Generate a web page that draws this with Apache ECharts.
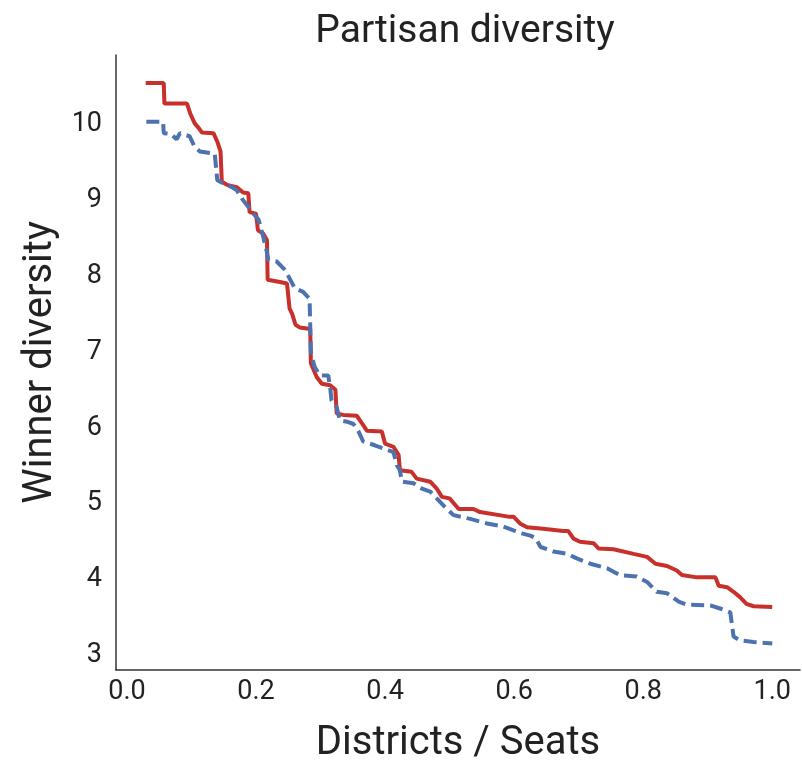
<!DOCTYPE html>
<html>
<head>
<meta charset="utf-8">
<script src="https://cdn.jsdelivr.net/npm/echarts@6/dist/echarts.min.js"></script>
<style>
  html, body { margin: 0; padding: 0; background: #fff; }
  #chart { width: 802px; height: 765px; }
</style>
</head>
<body>
<div id="chart"></div>
<script>
  // values (districts / seats fraction, winner diversity)
  var xTicks = [0, 0.2, 0.4, 0.6, 0.8, 1.0]
  var yTicks = [3, 4, 5, 6, 7, 8, 9, 10]

  var redX = [0.029, 0.057, 0.058, 0.093, 0.098, 0.105, 0.111, 0.116, 0.134, 0.140, 0.145, 0.147,
    0.155, 0.170, 0.180, 0.188, 0.190, 0.200, 0.203, 0.211, 0.217, 0.218, 0.237, 0.248, 0.252,
    0.256, 0.261, 0.268, 0.284, 0.285, 0.294, 0.302, 0.315, 0.323, 0.325, 0.335, 0.356, 0.364,
    0.372, 0.395, 0.400, 0.413, 0.421, 0.423, 0.441, 0.449, 0.470, 0.480, 0.488, 0.500, 0.514,
    0.537, 0.547, 0.591, 0.599, 0.609, 0.620, 0.645, 0.676, 0.684, 0.692, 0.702, 0.723, 0.731,
    0.754, 0.785, 0.806, 0.819, 0.837, 0.852, 0.860, 0.883, 0.912, 0.917, 0.930, 0.940, 0.950,
    0.960, 0.971, 1.000]
  var redY = [10.54, 10.54, 10.27, 10.27, 10.14, 10.01, 9.95, 9.89, 9.88, 9.77, 9.64, 9.24,
    9.20, 9.17, 9.10, 9.09, 8.84, 8.82, 8.60, 8.56, 8.47, 7.95, 7.92, 7.90, 7.57,
    7.50, 7.36, 7.32, 7.30, 6.85, 6.67, 6.58, 6.56, 6.50, 6.19, 6.17, 6.16, 6.06,
    5.96, 5.95, 5.79, 5.75, 5.64, 5.44, 5.42, 5.33, 5.29, 5.20, 5.09, 5.07, 4.93,
    4.93, 4.89, 4.83, 4.83, 4.74, 4.69, 4.67, 4.64, 4.64, 4.54, 4.50, 4.48, 4.41,
    4.40, 4.34, 4.30, 4.21, 4.18, 4.12, 4.06, 4.03, 4.03, 3.92, 3.90, 3.84, 3.77,
    3.68, 3.65, 3.64]

  var blueX = [0.030, 0.056, 0.057, 0.068, 0.077, 0.082, 0.097, 0.105, 0.113, 0.136, 0.140,
    0.149, 0.160, 0.170, 0.178, 0.188, 0.196, 0.204, 0.211, 0.216, 0.219, 0.232, 0.245, 0.250,
    0.260, 0.273, 0.283, 0.285, 0.291, 0.299, 0.312, 0.315, 0.317, 0.325, 0.330, 0.341, 0.351,
    0.359, 0.366, 0.384, 0.397, 0.413, 0.418, 0.423, 0.426, 0.444, 0.457, 0.470, 0.480, 0.490,
    0.506, 0.532, 0.558, 0.583, 0.599, 0.612, 0.625, 0.633, 0.641, 0.661, 0.682, 0.697, 0.718,
    0.744, 0.764, 0.790, 0.806, 0.821, 0.837, 0.855, 0.868, 0.904, 0.919, 0.935, 0.940, 0.950,
    0.971, 1.000]
  var blueY = [10.03, 10.03, 9.88, 9.87, 9.80, 9.88, 9.84, 9.70, 9.64, 9.61, 9.26,
    9.22, 9.18, 9.13, 9.02, 8.91, 8.82, 8.74, 8.52, 8.35, 8.21, 8.19, 8.08, 8.00,
    7.84, 7.79, 7.70, 6.98, 6.80, 6.69, 6.69, 6.52, 6.36, 6.27, 6.10, 6.08, 6.05,
    5.95, 5.82, 5.77, 5.73, 5.68, 5.51, 5.44, 5.29, 5.27, 5.20, 5.16, 5.07, 4.98,
    4.85, 4.80, 4.74, 4.70, 4.65, 4.61, 4.58, 4.55, 4.43, 4.37, 4.34, 4.28, 4.21,
    4.15, 4.06, 4.04, 3.97, 3.84, 3.82, 3.71, 3.67, 3.66, 3.62, 3.57, 3.25, 3.20,
    3.18, 3.16]

  function pairs(xs, ys) {
    var out = []
    for (var i = 0; i < xs.length; i++) {
      out.push([xs[i], ys[i]])
    }
    return out
  }

  var font = 'Roboto'
  var textColor = '#222222'
  var spineColor = '#333333'

  var chart = echarts.init(document.getElementById('chart'), null, { renderer: 'canvas' })
  chart.setOption({
    backgroundColor: '#ffffff',
    animation: false,
    title: {
      text: 'Partisan diversity',
      left: 460,
      top: 8,
      textAlign: 'center',
      textStyle: {
        fontFamily: font,
        fontWeight: 'normal',
        fontSize: 39,
        color: textColor
      }
    },
    grid: {
      left: 116,
      right: 2,
      top: 55,
      bottom: 95,
      containLabel: false,
      outerBoundsMode: 'none'
    },
    xAxis: {
      type: 'value',
      min: -0.017,
      max: 1.043,
      name: 'Districts / Seats',
      nameLocation: 'middle',
      nameGap: 54,
      nameTextStyle: {
        fontFamily: font,
        fontSize: 40,
        color: textColor
      },
      splitLine: { show: false },
      axisTick: { show: false },
      axisLine: { show: true, onZero: false, lineStyle: { color: spineColor, width: 1.5 } },
      axisLabel: {
        customValues: xTicks,
        margin: 9,
        fontFamily: font,
        fontSize: 27,
        color: textColor,
        formatter: function(v) {
          return v.toFixed(1)
        }
      }
    },
    yAxis: {
      type: 'value',
      min: 2.81,
      max: 10.91,
      name: 'Winner diversity',
      nameLocation: 'middle',
      nameGap: 42,
      nameTextStyle: {
        fontFamily: font,
        fontSize: 40,
        color: textColor
      },
      splitLine: { show: false },
      axisTick: { show: false },
      axisLine: { show: true, onZero: false, lineStyle: { color: spineColor, width: 1.5 } },
      axisLabel: {
        customValues: yTicks,
        margin: 14,
        fontFamily: font,
        fontSize: 27,
        color: textColor
      }
    },
    series: [{
      name: 'red',
      type: 'line',
      symbol: 'none',
      z: 3,
      lineStyle: { color: '#c8302b', width: 4 },
      data: pairs(redX, redY)
    }, {
      name: 'blue',
      type: 'line',
      symbol: 'none',
      z: 4,
      lineStyle: { color: '#4c72b0', width: 4, type: [13, 6] },
      data: pairs(blueX, blueY)
    }]
  })
</script>
</body>
</html>
